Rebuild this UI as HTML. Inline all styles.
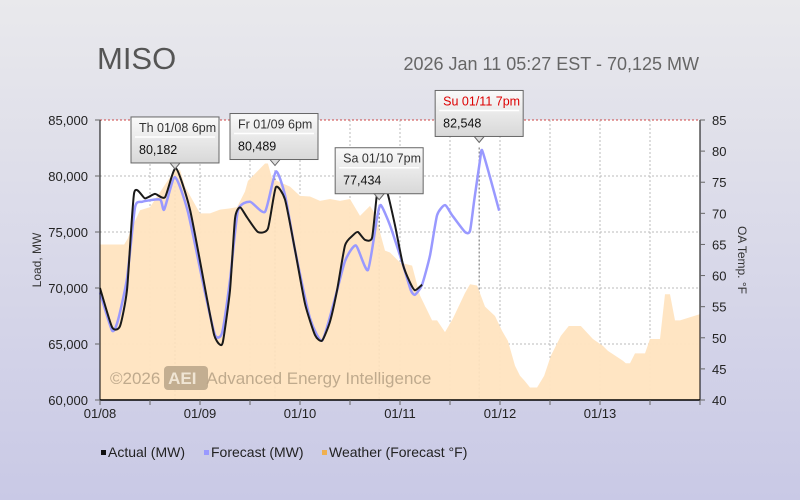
<!DOCTYPE html>
<html><head><meta charset="utf-8"><style>
body{margin:0;width:800px;height:500px;overflow:hidden;font-family:"Liberation Sans","DejaVu Sans",sans-serif}
svg{display:block}
</style></head><body>
<svg id="c" width="800" height="500">
<defs>
<linearGradient id="bg" x1="0" y1="0" x2="0" y2="1"><stop offset="0" stop-color="#e9e9ec"/><stop offset="1" stop-color="#c9c9e6"/></linearGradient>
<linearGradient id="tt" x1="0" y1="0" x2="0" y2="1"><stop offset="0" stop-color="#fafafa"/><stop offset="1" stop-color="#d8d8d8"/></linearGradient>
</defs>
<rect width="800" height="500" fill="url(#bg)"/>
<rect x="100" y="120" width="600" height="280" fill="#fff"/>
<g id="grid"></g>
<g id="marks"></g>
<g id="axes"></g>
<g id="tips"></g>
<text x="97" y="69" font-size="31" fill="#555">MISO</text>
<text x="699" y="70" font-size="18" fill="#666" text-anchor="end">2026 Jan 11 05:27 EST - 70,125 MW</text>
<g>
<rect x="164" y="366" width="44" height="24" rx="4" fill="#b9a488" opacity="0.85"/>
<text x="110" y="384" font-size="17" fill="#b9a488" opacity="0.9">©2026 <tspan font-weight="bold" fill="#f5ecdc" dx="3">AEI</tspan><tspan dx="10">Advanced Energy Intelligence</tspan></text>
</g>
<text transform="translate(41,260) rotate(-90)" font-size="12" fill="#333" text-anchor="middle">Load, MW</text>
<text transform="translate(738,260) rotate(90)" font-size="12" fill="#333" text-anchor="middle">OA Temp. °F</text>
<g font-size="14" fill="#222">
<g><rect x="101" y="450" width="5" height="5" fill="#111"/><text x="108" y="457">Actual (MW)</text></g>
<g><rect x="204" y="450" width="5" height="5" fill="#9999ff"/><text x="211" y="457">Forecast (MW)</text></g>
<g><rect x="322" y="450" width="5" height="5" fill="#f0b050"/><text x="329" y="457">Weather (Forecast °F)</text></g>
</g>
</svg>
<script>
const xTickLabels=["01/08","01/09","01/10","01/11","01/12","01/13"];
const yTicks=[60000,65000,70000,75000,80000,85000];
const y2Ticks=[40,45,50,55,60,65,70,75,80,85];
const actualHours=[0,2.9,4.8,6.5,8.2,10.8,13.2,15.6,18.2,21.6,25.7,27.4,28.6,29.5,31.2,32.4,33.6,35.3,37.9,40.3,42.2,44.4,46.8,49.2,51.6,53.3,55.2,56.9,58.8,60.7,61.9,63.6,65.3,66.5,67.4,68.9,70.8,72.7,74.4,75.6,77.3];
const actualMW=[70000,66500,66600,69900,78500,78000,78400,78100,80700,77000,69000,65800,65000,65200,69800,76200,77200,76300,75000,75300,79000,77900,73400,68600,65800,65300,67000,69800,73800,74700,75000,74300,74500,78500,79200,78600,75600,72100,70500,69800,70300];
const fcHours=[0,2.9,4.3,6.5,8.4,10.1,14.4,15.4,18,21.1,25.2,27.6,29.3,31.2,33.1,36,39.6,42.2,44.4,46.8,50.4,53.3,56.2,58.8,61.4,64.3,66.5,67.4,69.6,72.7,74.6,75.6,77.3,79.2,80.9,82.8,84.5,87.6,88.8,89.8,91.2,91.7,93.6,95.8];
const fcMW=[69600,66200,67100,70900,77200,77700,77900,77000,79900,76800,69600,65800,66000,70700,76900,77700,76800,80400,78300,73400,67300,65300,68800,72400,73800,71600,76300,77400,75600,72100,69800,69400,70300,72900,76500,77400,76500,75000,75100,77800,81400,82300,79900,76900];
const wHours=[0,5.8,6.7,7.2,9.6,12,18,19.2,20.4,24,26.4,28.8,31.2,32.9,34.8,35.5,39.6,40.3,41.3,43.2,45.6,48,50.4,52.8,55.2,57.6,60,62.4,63.6,64.8,66,68.4,69.6,72,74.9,76.8,79.7,80.9,82.8,84.7,87.6,88.8,90.5,92.4,94.8,96.5,97.9,99.6,100.8,101.9,103.2,104.9,106.6,108.2,110.6,112.5,115.4,118.3,120.7,121.9,125.5,126.2,127.2,128.4,130.8,132,134.4,135.6,136.8,138,139.2,144];
const wTemp=[65,65,66,67,70.5,71,77,77,74.3,70,70,70.6,70.8,71,73.5,75.2,78,78,75.6,75,74.3,72.8,72.7,72,72.3,72,72.3,69.6,70.4,71.2,69.9,64,63.7,62.1,61.6,56.8,52.8,52.8,50.9,53.1,57.2,58.6,58.4,55,53.5,51.1,49.5,45.5,43.9,43.1,42,42,43.9,47.1,50.3,51.9,51.9,49.8,48.7,47.9,46.3,45.9,45.9,47.5,47.5,49.8,49.8,57,57,52.8,52.8,53.8];
const tipHours=[18,42,67,91];
const tipTitles=["Th 01/08 6pm","Fr 01/09 6pm","Sa 01/10 7pm","Su 01/11 7pm"];
const tipValues=["80,182","80,489","77,434","82,548"];
const tipLoads=[80182,80489,77434,82548];

const X0=100,X1=700,Y0=400,Y1=120,NS="http://www.w3.org/2000/svg";
const xs=h=>X0+(h/144)*(X1-X0);
const ys=v=>Y0-(v-60000)/25000*(Y0-Y1);
const y2s=t=>Y0-(t-40)/45*(Y0-Y1);
function mk(tag,attrs,parent){const e=document.createElementNS(NS,tag);for(const k in attrs)e.setAttribute(k,attrs[k]);parent.appendChild(e);return e;}
const grid=document.getElementById('grid'),marks=document.getElementById('marks'),axes=document.getElementById('axes'),tips=document.getElementById('tips');

let d=`M${xs(wHours[0])},${Y0}`;
wHours.forEach((h,i)=>{d+=`L${xs(h)},${y2s(wTemp[i])}`;});
d+=`L${xs(wHours[wHours.length-1])},${Y0}Z`;
const wa=mk('path',{d:d,fill:'#ffe4c0',opacity:'0.95'},marks);



for(let h=12;h<144;h+=12){const g=mk('line',{x1:xs(h),x2:xs(h),y1:Y1,y2:Y0,stroke:'#bbb','stroke-dasharray':'2,2','stroke-width':1},grid);

}
yTicks.forEach(v=>{if(v===60000)return;const g=mk('line',{x1:X0,x2:X1,y1:ys(v),y2:ys(v),stroke:v===85000?'#c44':'#bbb','stroke-dasharray':'2,2','stroke-width':1},grid);

});

function line(hs,vs,color,w,name){
const P=hs.map((h,i)=>[xs(h),ys(vs[i])]);
let p='M'+P[0][0]+','+P[0][1];
for(let i=0;i<P.length-1;i++){const a=P[Math.max(0,i-1)],b=P[i],c=P[i+1],e2=P[Math.min(P.length-1,i+2)];const t=0.1;
p+=`C${b[0]+(c[0]-a[0])*t},${b[1]+(c[1]-a[1])*t} ${c[0]-(e2[0]-b[0])*t},${c[1]-(e2[1]-b[1])*t} ${c[0]},${c[1]}`;}
const e=mk('path',{d:p,fill:'none',stroke:color,'stroke-width':w,'stroke-linejoin':'round'},marks);

}
line(fcHours,fcMW,'#9999ff',2.5,'forecast-line');
line(actualHours,actualMW,'#1a1a1a',2,'actual-line');

mk('line',{x1:X0,x2:X0,y1:Y1,y2:Y0,stroke:'#000'},axes);
mk('line',{x1:X1,x2:X1,y1:Y1,y2:Y0,stroke:'#000'},axes);
mk('line',{x1:X0,x2:X1,y1:Y0,y2:Y0,stroke:'#000','stroke-width':1.5},axes);
yTicks.forEach(v=>{const t=mk('text',{x:88,y:ys(v)+5,'font-size':13,fill:'#222','text-anchor':'end'},axes);t.textContent=v.toLocaleString('en-US');


mk('line',{x1:X0-5,x2:X0,y1:ys(v),y2:ys(v),stroke:'#666'},axes);});
y2Ticks.forEach(v=>{const t=mk('text',{x:712,y:y2s(v)+5,'font-size':13,fill:'#222'},axes);t.textContent=v;


mk('line',{x1:X1,x2:X1+5,y1:y2s(v),y2:y2s(v),stroke:'#666'},axes);});
xTickLabels.forEach((s,i)=>{const t=mk('text',{x:xs(i*24),y:418,'font-size':13,fill:'#222','text-anchor':'middle'},axes);t.textContent=s;

});
for(let h=0;h<=144;h+=12)mk('line',{x1:xs(h),x2:xs(h),y1:Y0,y2:Y0+5,stroke:'#666'},axes);

tipHours.forEach((h,i)=>{const px=xs(h),py=ys(tipLoads[i]);
mk('line',{x1:px,x2:px,y1:py,y2:Y0,stroke:'#666','stroke-dasharray':'2,2'},grid);
const g=mk('g',{},tips);


const w=88,hh=46,bx=px-w/2+(i===1?-1:0),by=py-hh-11;
mk('rect',{x:bx,y:by,width:w,height:hh,fill:'url(#tt)',stroke:'#666'},g);
mk('line',{x1:bx+4,x2:bx+w-4,y1:by+20,y2:by+20,stroke:'#fff','stroke-width':1.5},g);
mk('path',{d:`M${px-5},${by+hh}L${px},${by+hh+6}L${px+5},${by+hh}Z`,fill:'#ddd',stroke:'#666'},g);
const t1=mk('text',{x:bx+8,y:by+15,'font-size':12.5,fill:i===3?'#d00':'#333'},g);t1.textContent=tipTitles[i];
const t2=mk('text',{x:bx+8,y:by+37,'font-size':12.5,fill:'#111'},g);t2.textContent=tipValues[i];
});
</script>
</body></html>
